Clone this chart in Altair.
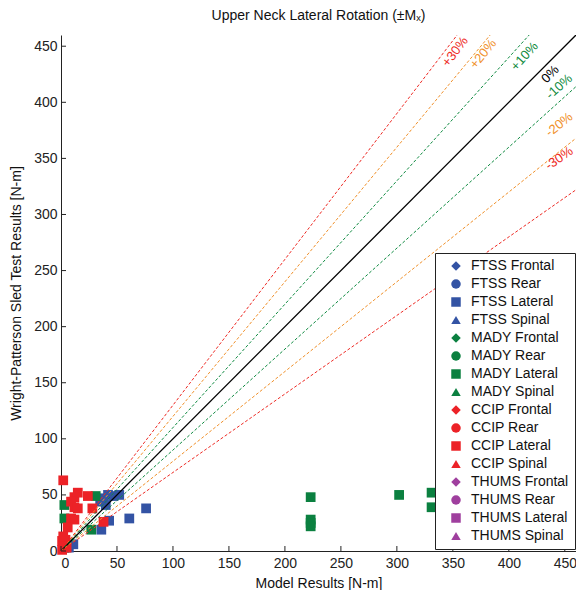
import altair as alt
import pandas as pd

# ---------------- data ----------------
models = ["FTSS", "MADY", "CCIP", "THUMS"]
load_types = ["Frontal", "Rear", "Lateral", "Spinal"]
model_colors = ["#3353a4", "#0b8040", "#ec2227", "#9f3f9e"]
type_shapes = ["diamond", "circle", "square", "triangle-up"]

ftss_lat_x = [7, 11, 36, 43, 61, 76, 38, 42, 47, 52, 40, 35]
ftss_lat_y = [3, 6, 19, 27, 29, 38, 47, 50, 49, 50, 41, 44]

mady_lat_x = [3, 3, 3, 31, 27, 223, 223, 223, 223, 302, 331, 331, 460]
mady_lat_y = [3, 41, 29, 49, 19, 48, 28, 25, 22, 50, 52, 39, 63]

ccip_lat_x = [2, 12, 15, 24, 9, 12, 15, 28, 9, 12, 6, 38, 1, 2, 3, 4, 5, 1, 2]
ccip_lat_y = [63, 48, 52, 49, 44, 39, 38, 38, 29, 28, 21, 26, 1, 4, 7, 10, 3, 9, 13]

ref_names = ["+30%", "+20%", "+10%", "0%", "-10%", "-20%", "-30%"]
ref_slopes = [1.3, 1.2, 1.1, 1.0, 0.9, 0.8, 0.7]
ref_label_x = [352, 377, 414, 437, 445, 445, 445]
ref_label_y = [445, 443, 441, 425, 414, 380, 350]
ref_colors = ["#ee2a24", "#f0902a", "#0e8a40", "#000000", "#0e8a40", "#f0902a", "#ee2a24"]

tick_values = list(range(0, 451, 50))

AX_MAX = 460
FONT = "Liberation Sans"

# ---------------- tables ----------------
series_names = [f"{m} {t}" for m in models for t in load_types]
color_range = [c for c in model_colors for _ in load_types]
shape_range = type_shapes * len(models)

rows = []
for name, xs, ys in [("FTSS Lateral", ftss_lat_x, ftss_lat_y),
                     ("MADY Lateral", mady_lat_x, mady_lat_y),
                     ("CCIP Lateral", ccip_lat_x, ccip_lat_y)]:
    for x, y in zip(xs, ys):
        rows.append({"series": name, "x": x, "y": y})
pts = pd.DataFrame(rows)

line_rows = []
for n, s in zip(ref_names, ref_slopes):
    line_rows.append({"name": n, "x": 0, "y": 0, "s": s})
    line_rows.append({"name": n, "x": AX_MAX, "y": AX_MAX * s, "s": s})
lines = pd.DataFrame(line_rows)

labels = pd.DataFrame({"name": ref_names, "x": ref_label_x, "y": ref_label_y, "s": ref_slopes})
ticks = pd.DataFrame({"v": tick_values})

xscale = alt.Scale(domain=[0, AX_MAX], nice=False, zero=False)
yscale = alt.Scale(domain=[0, AX_MAX], nice=False, zero=False)

xaxis = alt.Axis(values=tick_values, title="Model Results [N-m]", grid=False, ticks=False,
                 labelPadding=5, titlePadding=6)
yaxis = alt.Axis(values=tick_values, title="Wright-Patterson Sled Test Results [N-m]", grid=False,
                 ticks=False, labelPadding=4, titlePadding=10)

points = alt.Chart(pts).mark_point(filled=True, opacity=1, size=95).encode(
    x=alt.X("x:Q", scale=xscale, axis=xaxis),
    y=alt.Y("y:Q", scale=yscale, axis=yaxis),
    color=alt.Color("series:N", scale=alt.Scale(domain=series_names, range=color_range),
                    legend=alt.Legend(title=None)),
    shape=alt.Shape("series:N", scale=alt.Scale(domain=series_names, range=shape_range),
                    legend=alt.Legend(title=None)),
)

layers = [points]
for n, s, c in zip(ref_names, ref_slopes, ref_colors):
    if s == 1.0:
        mk = alt.Chart(lines).transform_filter(alt.datum.name == n).mark_line(
            strokeWidth=1.3, clip=True, color=c)
    else:
        mk = alt.Chart(lines).transform_filter(alt.datum.name == n).mark_line(
            strokeDash=[3, 2], strokeWidth=1, clip=True, color=c)
    layers.append(mk.encode(x=alt.X("x:Q", scale=xscale), y=alt.Y("y:Q", scale=yscale)))

for n, c in zip(ref_names, ref_colors):
    layers.append(
        alt.Chart(labels).transform_filter(alt.datum.name == n).transform_calculate(
            ang="360 - atan(datum.s) * 180 / PI"
        ).mark_text(fontSize=13, font=FONT, align="center", baseline="middle", color=c).encode(
            x=alt.X("x:Q", scale=xscale),
            y=alt.Y("y:Q", scale=yscale),
            text="name:N",
            angle=alt.Angle("ang:Q", scale=None),
        )
    )

layers.append(alt.Chart(ticks).mark_rule(color="#222222", strokeWidth=1).encode(
    x=alt.X("v:Q", scale=xscale), y=alt.value(516), y2=alt.value(511)))
layers.append(alt.Chart(ticks).mark_rule(color="#222222", strokeWidth=1).encode(
    y=alt.Y("v:Q", scale=yscale), x=alt.value(0), x2=alt.value(5)))

chart = alt.layer(*layers).properties(
    width=515, height=516,
    title=alt.TitleParams("Upper Neck Lateral Rotation (±Mₓ)", fontSize=14, fontWeight="normal",
                          font=FONT, anchor="middle", offset=12, color="#111111"),
    autosize=alt.AutoSizeParams(type="none"),
    padding={"left": 61, "top": 35, "right": 0, "bottom": 39},
).configure_view(stroke=None).configure_axis(
    labelFont=FONT, titleFont=FONT, labelFontSize=14, titleFontSize=14,
    titleFontWeight="normal", labelColor="#222222", titleColor="#111111",
    domainColor="#222222", domainWidth=1,
).configure_legend(
    orient="none", legendX=374, legendY=218, strokeColor="#222222", fillColor="white",
    padding=6, labelFont=FONT, labelFontSize=14, labelColor="#111111",
    symbolSize=90, symbolOffset=8, labelOffset=8, rowPadding=4, symbolStrokeWidth=0,
    cornerRadius=0,
)

chart.save("out.html", embed_options={"renderer": "svg", "actions": False})
